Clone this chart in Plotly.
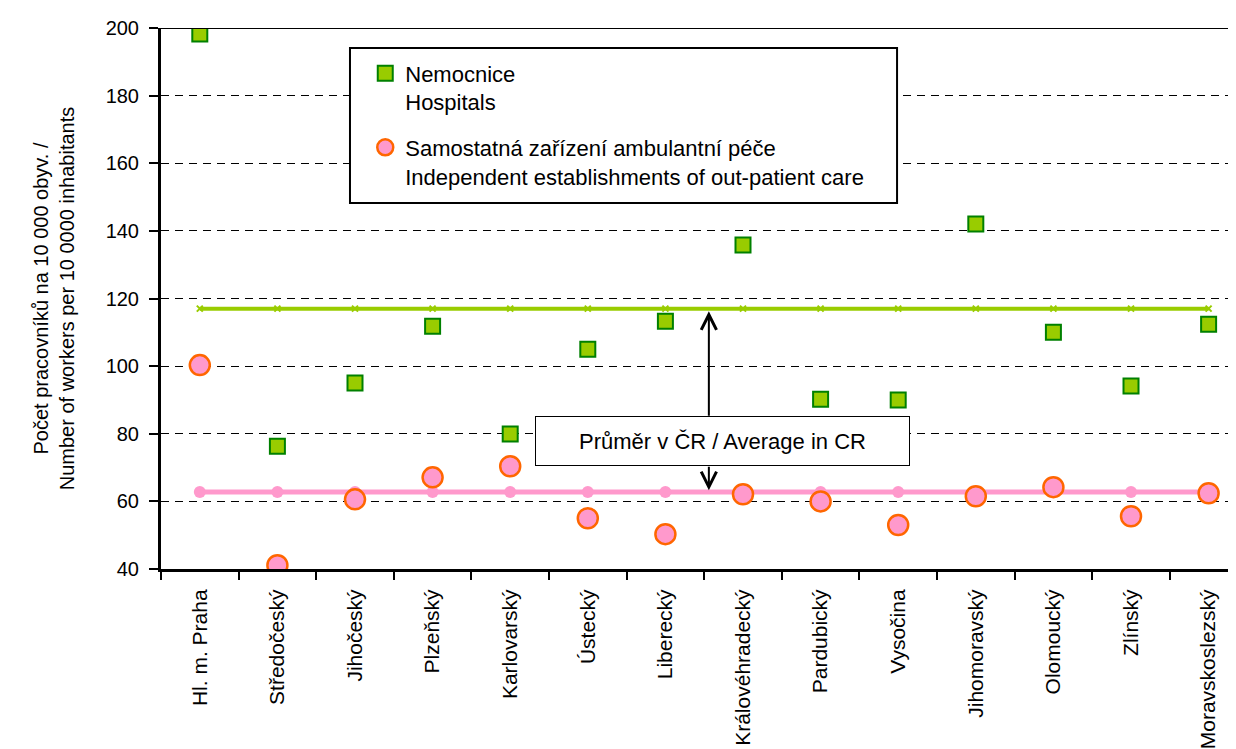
import plotly.graph_objects as go

regions = ["Hl. m. Praha", "Středočeský", "Jihočeský", "Plzeňský", "Karlovarský",
           "Ústecký", "Liberecký", "Královéhradecký", "Pardubický", "Vysočina",
           "Jihomoravský", "Olomoucký", "Zlínský", "Moravskoslezský"]
hospitals = [198.2, 76.3, 95.0, 111.8, 79.9, 105.0, 113.3, 135.8, 90.2, 90.0,
             142.0, 110.0, 94.1, 112.4]
outpatient = [100.3, 41.1, 60.6, 67.1, 70.4, 55.0, 50.3, 62.1, 60.0, 53.0,
              61.5, 64.2, 55.6, 62.4]
avg_hospitals = 117.0
avg_outpatient = 62.8
yticks = [40, 60, 80, 100, 120, 140, 160, 180, 200]

name_h = "Nemocnice<br>Hospitals"
name_o = "Samostatná zařízení ambulantní péče<br>Independent establishments of out-patient care"
avg_label = "Průměr v ČR / Average in CR"
ytitle = "Počet pracovníků na 10 000 obyv. /<br>Number of workers per 10 0000 inhabitants"

FONT = "Liberation Sans, Arial, sans-serif"
xs = list(range(len(regions)))

fig = go.Figure()
fig.add_trace(go.Scatter(
    x=xs, y=[avg_hospitals] * len(xs), mode="lines+markers",
    line=dict(color="#99CC00", width=4),
    marker=dict(symbol="x-thin", size=6, color="#99CC00", line=dict(color="#99CC00", width=2)),
    showlegend=False, hoverinfo="skip"))
fig.add_trace(go.Scatter(
    x=xs, y=[avg_outpatient] * len(xs), mode="lines+markers",
    line=dict(color="#FF99CC", width=5),
    marker=dict(symbol="circle", size=12, color="#FF99CC"),
    showlegend=False, hoverinfo="skip"))
fig.add_trace(go.Scatter(
    x=xs, y=hospitals, mode="markers", name=name_h, legendgroup="a",
    marker=dict(symbol="square", size=15, color="#99CC00", line=dict(color="#008000", width=2))))
fig.add_trace(go.Scatter(
    x=xs, y=outpatient, mode="markers", name=name_o, legendgroup="b",
    marker=dict(symbol="circle", size=20, color="#FF99CC", line=dict(color="#FF6600", width=2.5))))

# legend frame
fig.add_shape(type="rect", xref="paper", yref="paper", x0=0.1758, x1=0.6847, y0=0.6765, y1=0.963,
              line=dict(color="black", width=2), fillcolor="white", layer="above")
# top border
fig.add_shape(type="line", xref="paper", yref="y", x0=0, x1=1, y0=200, y1=200,
              line=dict(color="black", width=2))

arrow_x = 6.56
fig.add_annotation(x=6.73, y=77.8, text=avg_label, showarrow=False, width=371, height=46,
                   bgcolor="white", bordercolor="black", borderwidth=1,
                   font=dict(size=22, color="black", family=FONT))
fig.add_annotation(x=arrow_x, y=avg_hospitals - 0.8, ax=arrow_x, ay=84.9, axref="x", ayref="y",
                   text="", showarrow=True, arrowhead=5, arrowsize=1.5, arrowwidth=2,
                   arrowcolor="black", standoff=0, startstandoff=0)
fig.add_annotation(x=arrow_x, y=avg_outpatient + 0.5, ax=arrow_x, ay=70.7, axref="x", ayref="y",
                   text="", showarrow=True, arrowhead=5, arrowsize=1.5, arrowwidth=2,
                   arrowcolor="black", standoff=0, startstandoff=0)

fig.update_layout(
    width=1228, height=741,
    margin=dict(l=153, r=0, t=20, b=180, autoexpand=False),
    paper_bgcolor="white", plot_bgcolor="white",
    font=dict(family=FONT, size=20, color="black"),
    legend=dict(x=0.190, y=0.955, xanchor="left", yanchor="top", bgcolor="rgba(0,0,0,0)",
                borderwidth=0, font=dict(size=22, color="black", family=FONT),
                valign="top", traceorder="grouped", tracegroupgap=14),
    xaxis=dict(range=[-0.5, 13.353], tickmode="array", tickvals=xs, ticktext=regions,
               tickangle=-90, ticks="", showgrid=False, zeroline=False,
               showline=True, linecolor="black", linewidth=3,
               ticklabelstandoff=9,
               tickfont=dict(size=21, color="black", family=FONT),
               minor=dict(tick0=-0.5, dtick=1, ticks="outside", ticklen=8, tickwidth=2,
                          tickcolor="black", showgrid=False)),
    yaxis=dict(range=[40, 200], tickmode="array", tickvals=yticks,
               ticks="outside", ticklen=9, tickwidth=2, tickcolor="black",
               showline=True, linecolor="black", linewidth=3, zeroline=False,
               showgrid=True, gridcolor="black", gridwidth=1, griddash="8px,6px",
               ticklabelstandoff=6,
               tickfont=dict(size=20, color="black", family=FONT),
               title=dict(text=ytitle, font=dict(size=20, color="black", family=FONT), standoff=26)),
)

fig.write_html("out.html")
